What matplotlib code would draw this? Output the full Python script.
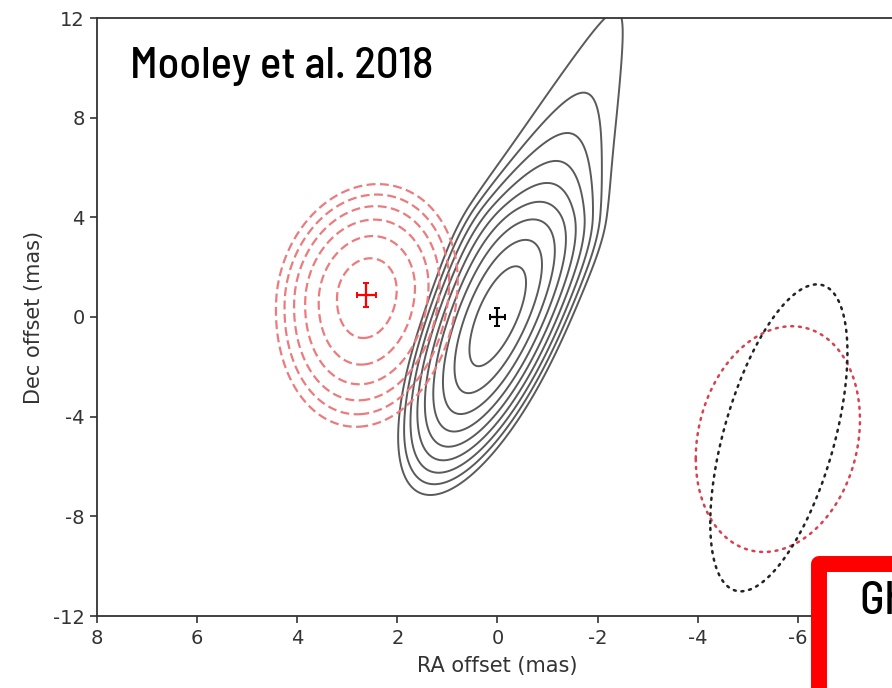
import numpy as np
import matplotlib
matplotlib.use('Agg')
import matplotlib.pyplot as plt
from matplotlib.patches import Rectangle

plt.rcParams['axes.unicode_minus'] = False

# ---- positions / uncertainties (mas) ----
# black: centroid of the jet (solid contours)
blk_pos = (0.0, 0.0)
blk_err = (0.14, 0.38)
blk_center = (0.0, 0.05)
blk_pa = 11.0              # deg, tilt of the major axis
blk_sig_down = 2.5
blk_sig_up = 2.45
blk_knee = 4.3             # where the upper tail starts to flatten
blk_tail = 3.1
blk_sig_perp = (0.49, 0.62, 0.72)     # core, mid, tail widths
blk_levels = [0.68, 1.6, 2.58, 3.58, 4.58, 5.58, 6.58, 7.58, 8.58]

# red: earlier epoch (dashed contours)
red_pos = (2.62, 0.88)
red_err = (0.19, 0.47)
red_center = (2.61, 0.9)
red_sig_ra = 0.77
red_sig_up = 1.88
red_sig_down = 2.25
red_rho = -0.12
red_levels = [0.6, 1.56, 2.56, 3.56, 4.56, 5.56]

# dotted beams (center, half-extent RA, half-extent Dec, correlation)
gh_blk_center = (-5.62, -4.85)
gh_blk_sx, gh_blk_sy, gh_blk_rho = 1.37, 6.16, -0.555
gh_red_center = (-5.6, -4.9)
gh_red_sx, gh_red_sy, gh_red_rho = 1.64, 4.53, -0.17

xticks = [8, 6, 4, 2, 0, -2, -4, -6]
yticks = [-12, -8, -4, 0, 4, 8, 12]


def step(u, start, soft):
    return 0.5 * (1 + np.tanh((u - start) / soft))


W, H = 892, 688
fig = plt.figure(figsize=(W / 100, H / 100), dpi=100)
ax = fig.add_axes([97 / W, 72 / H, 801 / W, 598 / H])

x = np.linspace(-8.5, 8.5, 851)
y = np.linspace(-13, 16, 1451)
X, Y = np.meshgrid(x, y)

# black skewed distribution
th = np.radians(blk_pa)
dx = X - blk_center[0]
dy = Y - blk_center[1]
u = -dx * np.sin(th) + dy * np.cos(th)
v = dx * np.cos(th) + dy * np.sin(th)
h = np.where(u > blk_knee,
             blk_knee + blk_tail * (1 - np.exp(-(u - blk_knee) / blk_tail)), u)
sig_u = np.where(u < 0, blk_sig_down, blk_sig_up)
s0, s1, s2 = blk_sig_perp
sig_v = s0 + (s1 - s0) * step(u, 3.0, 2.5) + (s2 - s1) * step(u, 8.0, 2.5)
q_blk = (h / sig_u) ** 2 + (v / sig_v) ** 2
ax.contour(X, Y, q_blk, levels=blk_levels, colors='#5a5a5a', linewidths=1.4)

# red distribution
z1 = (X - red_center[0]) / red_sig_ra
dyr = Y - red_center[1]
z2 = dyr / np.where(dyr > 0, red_sig_up, red_sig_down)
q_red = (z1 ** 2 - 2 * red_rho * z1 * z2 + z2 ** 2) / (1 - red_rho ** 2)
ax.contour(X, Y, q_red, levels=red_levels, colors='#ec7b7d', linewidths=1.6,
           linestyles=[(0, (4, 2))])

# dotted beams
t = np.linspace(0, 2 * np.pi, 400)
for c, sx, sy, rho, col in [(gh_red_center, gh_red_sx, gh_red_sy, gh_red_rho, '#d8414f'),
                            (gh_blk_center, gh_blk_sx, gh_blk_sy, gh_blk_rho, '#222222')]:
    ex = c[0] + sx * np.cos(t)
    ey = c[1] + sy * (rho * np.cos(t) + np.sqrt(1 - rho ** 2) * np.sin(t))
    ax.plot(ex, ey, color=col, lw=1.8, linestyle=(0, (0.8, 2.3)), dash_capstyle='round')

ax.errorbar(*red_pos, xerr=red_err[0], yerr=red_err[1], color='red',
            elinewidth=1.6, capsize=2.5, capthick=1.4, zorder=5)
ax.errorbar(*blk_pos, xerr=blk_err[0], yerr=blk_err[1], color='black',
            elinewidth=1.6, capsize=2.5, capthick=1.4, zorder=5)

ax.set_xlim(8, -8)
ax.set_ylim(-12, 12)
ax.set_xticks(xticks)
ax.set_yticks(yticks)
ax.tick_params(labelsize=14, labelcolor='#333333', color='#333333',
               length=5, width=1.2, pad=4)
for s in ax.spines.values():
    s.set_color('#333333')
    s.set_linewidth(1.3)
ax.set_xlabel('RA offset (mas)', fontsize=15, color='#333333', labelpad=6)
ax.set_ylabel('Dec offset (mas)', fontsize=15, color='#333333', labelpad=6)

narrow = ['Barlow Semi Condensed', 'DejaVu Sans']
fig.text(130 / W, 1 - 78 / H, 'Mooley et al. 2018', fontsize=32,
         family=narrow, weight='medium', va='baseline', ha='left')

# highlighted panel in the corner
fig.patches.append(Rectangle((818.5 / W, -0.2), 0.4, 1 - 563.5 / H + 0.2,
                             transform=fig.transFigure, fill=True,
                             facecolor='white', edgecolor='#ff0000',
                             linewidth=11.5, joinstyle='round', zorder=10))
fig.text(860 / W, 1 - 614 / H, 'Ghirlanda et al. 2019', fontsize=33,
         family=narrow, weight='medium', va='baseline', ha='left', zorder=11)

fig.savefig('out.png', dpi=100)
